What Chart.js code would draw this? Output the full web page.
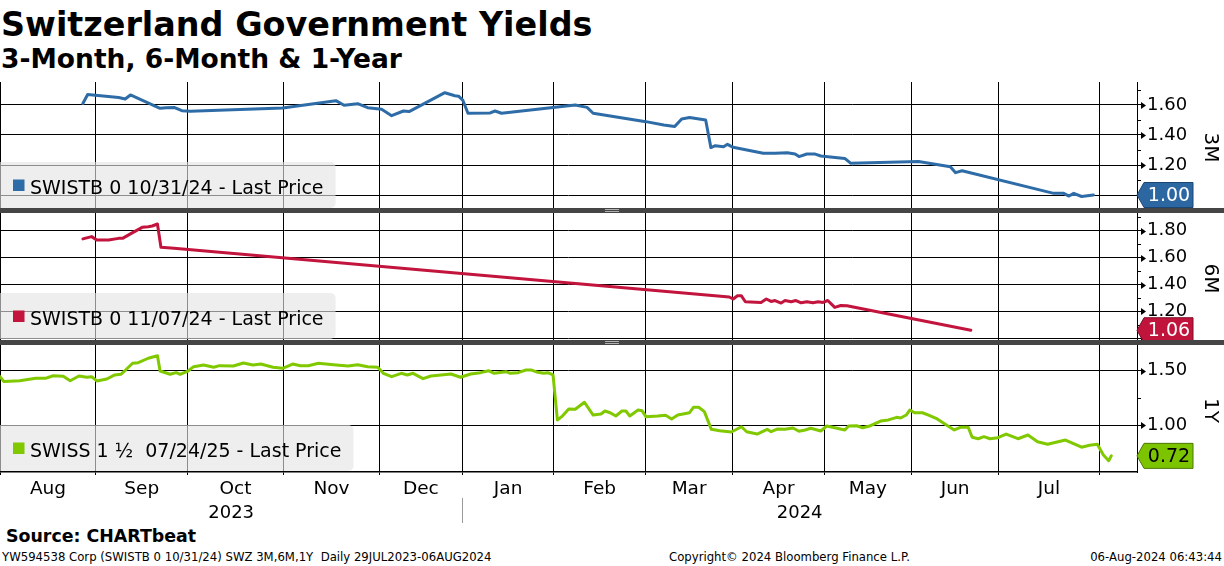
<!DOCTYPE html>
<html>
<head>
<meta charset="utf-8">
<script src="https://cdn.jsdelivr.net/npm/chart.js@4/dist/chart.umd.min.js"></script>
<style>
html,body{margin:0;padding:0;background:#fff;}
body{width:1224px;height:566px;position:relative;overflow:hidden;font-family:"DejaVu Sans",sans-serif;color:#000;}
.abs{position:absolute;white-space:pre;}
.panel{position:absolute;left:0;width:1224px;}
.sep{position:absolute;left:0;width:1224px;height:5px;background:#454545;z-index:3;}
.grip{position:absolute;left:605px;width:14px;top:1px;height:1px;border-top:1px solid #b0b0b0;border-bottom:1px solid #b0b0b0;}
#title{left:1px;top:8px;font-weight:bold;font-size:33.4px;line-height:33.4px;}
#subtitle{left:1px;top:46px;font-weight:bold;font-size:26.5px;line-height:26.5px;}
#source{left:6px;top:528px;font-weight:bold;font-size:17.4px;line-height:17.4px;}
.foot{top:552px;font-size:11.7px;line-height:11.7px;}
</style>
</head>
<body>
<div id="title" class="abs">Switzerland Government Yields</div>
<div id="subtitle" class="abs">3-Month, 6-Month &amp; 1-Year</div>

<div class="panel" style="top:82px;height:127px;"><canvas id="c1"></canvas></div>
<div class="panel" style="top:213px;height:127px;"><canvas id="c2"></canvas></div>
<div class="panel" style="top:345px;height:180px;"><canvas id="c3"></canvas></div>
<div class="sep" style="top:208px;"><div class="grip"></div></div>
<div class="sep" style="top:340px;"><div class="grip"></div></div>

<div id="source" class="abs">Source: CHARTbeat</div>
<div class="abs foot" style="left:2px;">YW594538 Corp (SWISTB 0 10/31/24) SWZ 3M,6M,1Y  Daily 29JUL2023-06AUG2024</div>
<div class="abs foot" style="left:669px;">Copyright© 2024 Bloomberg Finance L.P.</div>
<div class="abs foot" style="right:2px;">06-Aug-2024 06:43:44</div>

<script>
// ---------- DATA (x = trading-day index from 31 Jul 2023) ----------
const dayMax = 260.7;
const monthStartDays = [0, 22, 43, 65, 87, 106, 127, 148, 168, 189, 209, 229, 252];
const monthLabels = ['Aug','Sep','Oct','Nov','Dec','Jan','Feb','Mar','Apr','May','Jun','Jul'];
const yearLabels = ['2023', '2024'];
const yearStartDays = [0, 106];

const m3Days = [19, 20.1, 27.2, 28.7, 29.9, 36.7, 38.1, 39.9, 41.7, 43.6, 64.8, 77, 78.9, 82, 84.3, 87.5, 89.8, 92.5, 93.8, 102, 104.3, 105.2, 106.1, 107.3, 112.4, 113.5, 115, 131.9, 134.6, 136, 148.1, 152.2, 154.7, 156.3, 158.1, 161.8, 163, 164, 165.9, 166.8, 168.1, 175, 177.7, 180.5, 182.3, 183.2, 185, 186.9, 188.2, 193.7, 195.1, 210.6, 217.9, 219.1, 220.6, 241.6, 243.9, 245.1, 246.2, 248, 250.7];
const m3Yields = [1.61, 1.67, 1.65, 1.64, 1.667, 1.578, 1.582, 1.584, 1.562, 1.558, 1.58, 1.629, 1.598, 1.609, 1.582, 1.571, 1.529, 1.56, 1.556, 1.682, 1.662, 1.658, 1.633, 1.545, 1.547, 1.56, 1.545, 1.60, 1.584, 1.545, 1.489, 1.467, 1.456, 1.507, 1.516, 1.50, 1.316, 1.329, 1.322, 1.338, 1.318, 1.278, 1.278, 1.282, 1.273, 1.256, 1.273, 1.273, 1.26, 1.244, 1.211, 1.224, 1.189, 1.149, 1.162, 1.011, 1.011, 0.993, 1.011, 0.99, 1.00];

const m6Days = [19, 21, 22.2, 24.9, 27.2, 28.1, 29.9, 32.6, 34, 34.9, 36.1, 36.9, 39.9, 167.2, 168.1, 169.1, 170, 170.9, 174.5, 175.7, 176.8, 177.7, 179.1, 180, 181.4, 182.5, 183.7, 185, 186.4, 187.6, 188.7, 189.8, 191.4, 192.8, 194.2, 222.6];
const m6Yields = [1.739, 1.756, 1.731, 1.731, 1.743, 1.743, 1.776, 1.825, 1.83, 1.835, 1.85, 1.677, 1.67, 1.307, 1.292, 1.316, 1.316, 1.272, 1.267, 1.292, 1.274, 1.281, 1.262, 1.281, 1.272, 1.281, 1.264, 1.272, 1.264, 1.272, 1.267, 1.281, 1.23, 1.244, 1.242, 1.06];

const y1Days = [0, 0.9, 4.5, 8.2, 10.4, 12.2, 14.5, 16.1, 18.1, 19.9, 21, 22.2, 24.5, 26.3, 27.7, 28.8, 30.4, 31.7, 34, 36.1, 36.7, 39, 40.4, 41.3, 43.1, 44.4, 46.7, 49, 50.3, 53.5, 55.8, 58, 59.8, 62.6, 64.8, 67.1, 68.9, 70.7, 73, 75.3, 77.1, 79.8, 82, 84.3, 86.6, 87.9, 89.8, 92, 93.4, 94.7, 97, 98.8, 103.4, 105.6, 107.9, 110.2, 112, 113.3, 116, 117, 118.8, 120.6, 121.9, 123.3, 124.7, 125.6, 126.8, 127.8, 128.8, 130.4, 131.9, 134, 136, 137.8, 138.7, 139.9, 141.2, 142.6, 143.5, 144.4, 146.3, 147.2, 148.1, 150.8, 152.6, 154, 155.4, 158.1, 159, 160.2, 161.5, 163.1, 165, 167.7, 170, 171.2, 173.6, 175.9, 176.8, 178.2, 180, 181.8, 183.2, 184.6, 185.9, 188.2, 189.6, 191.9, 193.7, 194.6, 196.4, 197.8, 199.6, 201.9, 203.7, 205.6, 206.5, 207.8, 208.6, 209.7, 211.5, 212.9, 214.9, 217, 218.8, 220.2, 222, 222.9, 224.3, 225.6, 227, 228.8, 230.7, 233.4, 235.7, 237.9, 240.2, 244.3, 248, 249.8, 251.6, 253, 254.2, 254.8];
const y1Yields = [1.445, 1.40, 1.408, 1.43, 1.43, 1.454, 1.449, 1.408, 1.451, 1.44, 1.445, 1.406, 1.424, 1.461, 1.467, 1.506, 1.568, 1.573, 1.614, 1.637, 1.497, 1.467, 1.482, 1.467, 1.497, 1.537, 1.552, 1.531, 1.546, 1.543, 1.571, 1.552, 1.561, 1.531, 1.522, 1.561, 1.546, 1.546, 1.568, 1.559, 1.552, 1.543, 1.555, 1.537, 1.531, 1.476, 1.445, 1.476, 1.461, 1.476, 1.427, 1.451, 1.47, 1.44, 1.47, 1.482, 1.50, 1.476, 1.491, 1.476, 1.482, 1.506, 1.506, 1.485, 1.476, 1.482, 1.461, 1.049, 1.079, 1.149, 1.147, 1.211, 1.094, 1.103, 1.131, 1.115, 1.085, 1.131, 1.131, 1.085, 1.14, 1.134, 1.079, 1.085, 1.092, 1.058, 1.094, 1.115, 1.165, 1.165, 1.125, 0.963, 0.951, 0.939, 0.987, 0.941, 0.92, 0.963, 0.941, 0.966, 0.963, 0.975, 0.945, 0.957, 0.973, 0.948, 0.994, 0.973, 0.957, 0.994, 0.996, 0.978, 0.996, 1.039, 1.049, 1.073, 1.067, 1.094, 1.14, 1.115, 1.115, 1.094, 1.058, 1.003, 0.957, 0.982, 0.982, 0.89, 0.877, 0.896, 0.877, 0.886, 0.92, 0.877, 0.911, 0.85, 0.826, 0.865, 0.799, 0.817, 0.826, 0.728, 0.676, 0.72];

const m3MajorTicks = [1.0, 1.2, 1.4, 1.6];
const m3MinorTicks = [0.9, 1.1, 1.3, 1.5, 1.7];
const m6MajorTicks = [1.0, 1.2, 1.4, 1.6, 1.8];
const m6MinorTicks = [1.1, 1.3, 1.5, 1.7, 1.9];
const y1MajorTicks = [1.0, 1.5];
const y1MinorTicks = [0.75, 1.25];

const legendTexts = ['SWISTB 0 10/31/24 - Last Price', 'SWISTB 0 11/07/24 - Last Price', 'SWISS 1 \u00BD  07/24/25 - Last Price'];
const panelLabels = ['3M', '6M', '1Y'];
const tagTexts = ['1.00', '1.06', '0.72'];

// ---------- STYLE ----------
const FONT = '"DejaVu Sans", sans-serif';
const AXIS_W = 87;

function panelPlugin(p) {
  return {
    id: 'panelDeco' + p.label,
    afterDatasetsDraw(chart) {
      const ctx = chart.ctx, a = chart.chartArea;
      ctx.save();
      ctx.font = '19px ' + FONT;
      const tw = ctx.measureText(p.legend).width;
      const bw = 30 + tw + 12, top = a.bottom - 47;
      ctx.fillStyle = 'rgba(228,228,228,0.62)';
      ctx.beginPath();
      ctx.roundRect(-6, top, bw + 6, 46, 5);
      ctx.fill();
      ctx.fillStyle = p.color;
      ctx.fillRect(13, a.bottom - 29.5, 11.5, 11.5);
      ctx.fillStyle = '#000';
      ctx.textBaseline = 'alphabetic';
      ctx.textAlign = 'left';
      ctx.fillText(p.legend, 30, a.bottom - 15.5);
      ctx.restore();
    },
    afterDraw(chart) {
      const ctx = chart.ctx, a = chart.chartArea, ys = chart.scales.y, xs = chart.scales.x;
      const ax = a.right;
      ctx.save();
      ctx.strokeStyle = '#000'; ctx.fillStyle = '#000'; ctx.lineWidth = 1;
      p.minor.forEach(v => {
        const py = Math.round(ys.getPixelForValue(v)) + 0.5;
        ctx.beginPath(); ctx.moveTo(ax, py); ctx.lineTo(ax + 4, py); ctx.stroke();
      });
      p.major.forEach(v => {
        const py = Math.round(ys.getPixelForValue(v)) + 0.5;
        ctx.beginPath(); ctx.moveTo(ax + 4, py - 3.5); ctx.lineTo(ax + 9, py); ctx.lineTo(ax + 4, py + 3.5); ctx.closePath(); ctx.fill();
      });
      // last value tag
      const last = p.yields[p.yields.length - 1];
      const ty = ys.getPixelForValue(last);
      ctx.beginPath();
      ctx.moveTo(ax, ty);
      ctx.lineTo(ax + 7, ty - 12.5);
      ctx.lineTo(ax + 56, ty - 12.5);
      ctx.lineTo(ax + 56, ty + 12.5);
      ctx.lineTo(ax + 7, ty + 12.5);
      ctx.closePath();
      ctx.fillStyle = p.tagBg; ctx.fill();
      ctx.strokeStyle = p.tagBorder; ctx.stroke();
      ctx.fillStyle = p.tagFg;
      ctx.font = '19px ' + FONT;
      ctx.textAlign = 'center'; ctx.textBaseline = 'middle';
      ctx.fillText(p.tag, ax + 32, ty + 1);
      // panel label, rotated clockwise
      ctx.save();
      ctx.translate(ax + 73, (a.top + a.bottom) / 2 + 2);
      ctx.rotate(Math.PI / 2);
      ctx.fillStyle = '#000';
      ctx.font = '20px ' + FONT;
      ctx.fillText(p.label, 0, 0);
      ctx.restore();
      // month / year labels on bottom panel
      if (p.bottom) {
        ctx.fillStyle = '#000';
        ctx.textAlign = 'center'; ctx.textBaseline = 'alphabetic';
        ctx.font = '18.5px ' + FONT;
        monthLabels.forEach((m, i) => {
          const x = (xs.getPixelForValue(monthStartDays[i]) + xs.getPixelForValue(monthStartDays[i + 1])) / 2;
          ctx.fillText(m, x, a.bottom + 22);
        });
        ctx.font = '18px ' + FONT;
        yearLabels.forEach((yl, i) => {
          const end = i + 1 < yearStartDays.length ? yearStartDays[i + 1] : dayMax;
          const x = (xs.getPixelForValue(yearStartDays[i]) + xs.getPixelForValue(end)) / 2;
          ctx.fillText(yl, x, a.bottom + 46);
        });
        ctx.strokeStyle = '#9a9a9a';
        for (let i = 1; i < yearStartDays.length; i++) {
          const x = Math.round(xs.getPixelForValue(yearStartDays[i])) + 0.5;
          ctx.beginPath(); ctx.moveTo(x, a.bottom + 26); ctx.lineTo(x, a.bottom + 51); ctx.stroke();
        }
      }
      ctx.restore();
    }
  };
}

function makePanel(id, p) {
  return new Chart(document.getElementById(id), {
    type: 'line',
    data: {
      datasets: [{
        data: p.days.map((d, i) => ({x: d, y: p.yields[i]})),
        borderColor: p.color,
        borderWidth: 3,
        pointRadius: 0,
        tension: 0,
        borderJoinStyle: 'round',
        borderCapStyle: 'round'
      }]
    },
    options: {
      responsive: true,
      maintainAspectRatio: false,
      animation: false,
      events: [],
      layout: {padding: 0},
      plugins: {legend: {display: false}, tooltip: {enabled: false}},
      scales: {
        x: {
          type: 'linear', min: 0, max: dayMax, position: 'bottom',
          afterBuildTicks: s => { s.ticks = monthStartDays.map(v => ({value: v})); },
          ticks: {display: false},
          grid: {color: '#000', lineWidth: 1, drawTicks: p.bottom, tickLength: 3, tickColor: '#000'},
          border: {display: p.bottom, color: '#000', width: 1.5},
          afterFit: s => { s.height = p.bottom ? 53 : 0; s.paddingLeft = 0; s.paddingRight = 0; }
        },
        y: {
          type: 'linear', position: 'right', min: p.min, max: p.max,
          afterBuildTicks: s => { s.ticks = p.major.map(v => ({value: v})); },
          ticks: {color: '#000', font: {family: FONT, size: 18}, padding: 5, autoSkip: false,
                  callback: v => Number(v).toFixed(2)},
          grid: {color: '#000', lineWidth: 1, drawTicks: true, tickLength: 5, tickColor: '#000'},
          border: {display: true, color: '#000', width: 1},
          afterFit: s => { s.width = AXIS_W; s.paddingTop = 0; s.paddingBottom = 0; }
        }
      }
    },
    plugins: [panelPlugin(p)]
  });
}

makePanel('c1', {days: m3Days, yields: m3Yields, color: '#2e6ca8', tagBg: '#2d67a2', tagBorder: '#1b4673', tagFg: '#fff',
  min: 0.9067, max: 1.7533, major: m3MajorTicks, minor: m3MinorTicks,
  legend: legendTexts[0], label: panelLabels[0], tag: tagTexts[0], bottom: false});
makePanel('c2', {days: m6Days, yields: m6Yields, color: '#c2143d', tagBg: '#c0143c', tagBorder: '#7d0d27', tagFg: '#fff',
  min: 0.9874, max: 1.9316, major: m6MajorTicks, minor: m6MinorTicks,
  legend: legendTexts[1], label: panelLabels[1], tag: tagTexts[1], bottom: false});
makePanel('c3', {days: y1Days, yields: y1Yields, color: '#80c900', tagBg: '#7cc400', tagBorder: '#4a7800', tagFg: '#000',
  min: 0.5723, max: 1.7353, major: y1MajorTicks, minor: y1MinorTicks,
  legend: legendTexts[2], label: panelLabels[2], tag: tagTexts[2], bottom: true});
</script>
</body>
</html>
